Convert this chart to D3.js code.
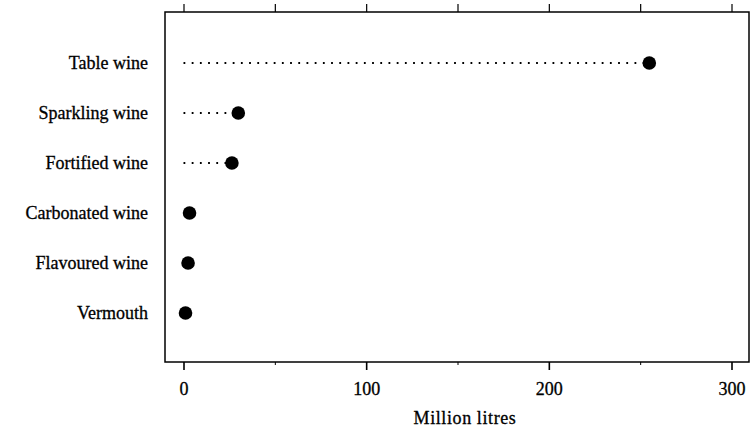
<!DOCTYPE html>
<html>
<head>
<meta charset="utf-8">
<script src="https://cdn.jsdelivr.net/npm/d3@7"></script>
<style>
  body { margin: 0; background: #fff; }
</style>
</head>
<body>
<div id="chart"></div>
<script>

//******************************************************************************
//**  Data
//******************************************************************************
var categories = ["Table wine", "Sparkling wine", "Fortified wine",
                  "Carbonated wine", "Flavoured wine", "Vermouth"];
var volumes = [255, 30, 26.5, 3.3, 2.5, 1.1];
var majorTicks = [0, 100, 200, 300];
var minorTicks = [50, 150, 250];
var xTitle = "Million litres";

var serif = "'Liberation Serif', 'DejaVu Serif', serif";


//******************************************************************************
//**  Layout
//******************************************************************************
var width = 751, height = 430;
var frame = {left: 165, right: 749, top: 12, bottom: 362};

var svg = d3.select("#chart").append("svg")
    .attr("width", width)
    .attr("height", height)
    .attr("font-family", serif);

var x = d3.scaleLinear().domain([0, 300]).range([183.5, 731.5]);
var y = d3.scalePoint().domain(categories).range([63, 313]);


//**************************************************************************
//** Frame
//**************************************************************************
svg.append("rect")
    .attr("x", frame.left)
    .attr("y", frame.top)
    .attr("width", frame.right - frame.left)
    .attr("height", frame.bottom - frame.top)
    .attr("fill", "none")
    .attr("stroke", "#000")
    .attr("stroke-width", 1.5);


//**************************************************************************
//** Axes
//**************************************************************************
var gb = svg.append("g")
    .attr("transform", "translate(0," + frame.bottom + ")")
    .call(d3.axisBottom(x).tickValues(majorTicks).tickSize(8).tickPadding(12));
gb.select(".domain").remove();
gb.attr("font-family", serif).attr("font-size", 18);
gb.selectAll("line").attr("stroke-width", 1.6);
gb.selectAll("text").attr("stroke", "#000").attr("stroke-width", 0.3);

var gbm = svg.append("g")
    .attr("transform", "translate(0," + frame.bottom + ")")
    .call(d3.axisBottom(x).tickValues(minorTicks).tickSize(3).tickFormat(""));
gbm.select(".domain").remove();

var gt = svg.append("g")
    .attr("transform", "translate(0," + frame.top + ")")
    .call(d3.axisTop(x).tickValues(majorTicks.concat(minorTicks)).tickSize(8).tickFormat(""));
gt.select(".domain").remove();
gt.selectAll("line").attr("stroke-width", 1.2);

svg.append("text")
    .attr("x", 465)
    .attr("y", 424)
    .attr("text-anchor", "middle")
    .attr("font-size", 18)
    .attr("letter-spacing", 0.6)
    .attr("stroke", "#000")
    .attr("stroke-width", 0.3)
    .text(xTitle);


//**************************************************************************
//** Category labels
//**************************************************************************
svg.selectAll(".cat")
    .data(categories)
    .enter().append("text")
    .attr("class", "cat")
    .attr("x", 148)
    .attr("y", function(d){ return y(d); })
    .attr("dy", "0.35em")
    .attr("text-anchor", "end")
    .attr("font-size", 18)
    .attr("stroke", "#000")
    .attr("stroke-width", 0.3)
    .text(function(d){ return d; });


//**************************************************************************
//** Dots and leaders
//**************************************************************************
var rows = categories.map(function(c, i){ return {cat: c, val: volumes[i]}; });

svg.selectAll(".leader")
    .data(rows)
    .enter().append("line")
    .attr("class", "leader")
    .attr("x1", x(0))
    .attr("x2", function(d){ return x(d.val); })
    .attr("y1", function(d){ return y(d.cat); })
    .attr("y2", function(d){ return y(d.cat); })
    .attr("stroke", "#000")
    .attr("stroke-width", 1.8)
    .attr("stroke-dasharray", "1.8,6.4");

svg.selectAll(".dot")
    .data(rows)
    .enter().append("circle")
    .attr("class", "dot")
    .attr("cx", function(d){ return x(d.val); })
    .attr("cy", function(d){ return y(d.cat); })
    .attr("r", 6.8)
    .attr("fill", "#000");

</script>
</body>
</html>
